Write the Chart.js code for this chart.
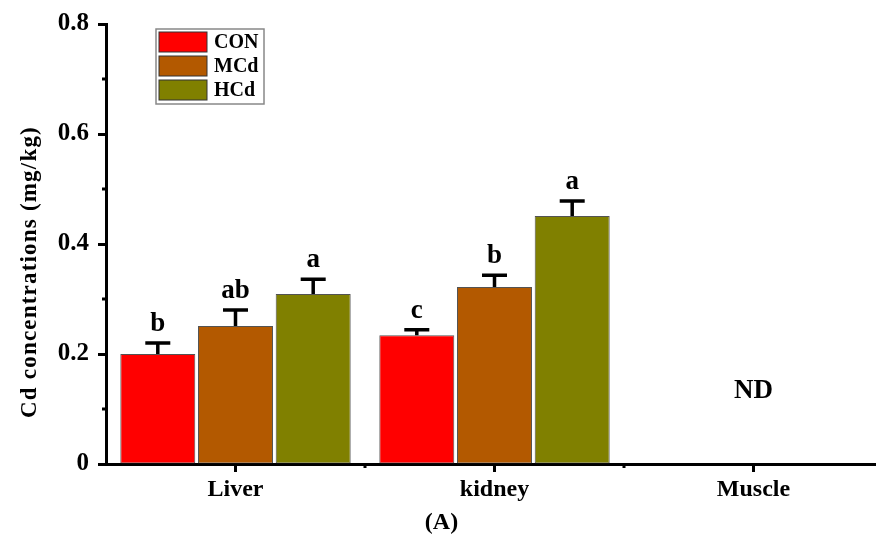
<!DOCTYPE html>
<html>
<head>
<meta charset="utf-8">
<script src="https://cdn.jsdelivr.net/npm/chart.js@4/dist/chart.umd.min.js"></script>
<style>
  html, body { margin: 0; padding: 0; overflow: hidden; background: #fff; }
  canvas { display: block; }
</style>
</head>
<body>
<canvas id="cdChart" width="883" height="538"></canvas>
<script>
// values (mg/kg)
const categories = ['Liver', 'kidney', 'Muscle'];
const conValues = [0.200, 0.234, 0];
const mcdValues = [0.251, 0.322, 0];
const hcdValues = [0.309, 0.451, 0];
const conErrors = [0.020, 0.010, 0];
const mcdErrors = [0.029, 0.021, 0];
const hcdErrors = [0.027, 0.027, 0];
const conLetters = ['b', 'c', ''];
const mcdLetters = ['ab', 'b', ''];
const hcdLetters = ['a', 'a', ''];
const yTickValues = [0, 0.2, 0.4, 0.6, 0.8];
const yMinorValues = [0.1, 0.3, 0.5, 0.7];

const FONT = '"Liberation Serif", "Times New Roman", serif';

function makeDataset(label, values, color, errors, letters) {
    return {
        label: label,
        data: values,
        backgroundColor: color,
        borderColor: 'rgba(40, 40, 40, 0.8)',
        borderWidth: 1,
        borderSkipped: false,
        errors: errors,
        letters: letters
    };
}

// error bars + significance letters
const errorBarPlugin = {
    id: 'errorBars',
    afterDatasetsDraw(chart) {
        const ctx = chart.ctx;
        const y = chart.scales.y;
        ctx.save();
        chart.data.datasets.forEach(function (ds, di) {
            const meta = chart.getDatasetMeta(di);
            meta.data.forEach(function (bar, i) {
                const v = ds.data[i];
                const e = ds.errors[i];
                if (!v) return;
                const yTop = y.getPixelForValue(v + e);
                const yBar = y.getPixelForValue(v);
                ctx.strokeStyle = '#000';
                ctx.lineWidth = 3.5;
                ctx.beginPath();
                ctx.moveTo(bar.x, yBar);
                ctx.lineTo(bar.x, yTop);
                ctx.moveTo(bar.x - 12.5, yTop);
                ctx.lineTo(bar.x + 12.5, yTop);
                ctx.stroke();
                ctx.fillStyle = '#000';
                ctx.font = 'bold 27px ' + FONT;
                ctx.textAlign = 'center';
                ctx.textBaseline = 'alphabetic';
                ctx.fillText(ds.letters[i], bar.x, yTop - 12);
            });
        });
        ctx.restore();
    },
    afterDraw(chart) {
        const ctx = chart.ctx;
        const x = chart.scales.x;
        const y = chart.scales.y;
        const area = chart.chartArea;
        ctx.save();

        // minor ticks
        ctx.strokeStyle = '#000';
        ctx.lineWidth = 3;
        ctx.beginPath();
        yMinorValues.forEach(function (v) {
            const py = y.getPixelForValue(v);
            ctx.moveTo(area.left - 4, py);
            ctx.lineTo(area.left, py);
        });
        for (let i = 1; i < categories.length; i++) {
            const px = (x.getPixelForValue(i - 1) + x.getPixelForValue(i)) / 2;
            ctx.moveTo(px, area.bottom);
            ctx.lineTo(px, area.bottom + 4);
        }
        ctx.stroke();

        // ND for muscle
        ctx.fillStyle = '#000';
        ctx.font = 'bold 27px ' + FONT;
        ctx.textAlign = 'center';
        ctx.textBaseline = 'alphabetic';
        ctx.fillText('ND', x.getPixelForValue(2), y.getPixelForValue(0.12));

        // y axis title
        ctx.save();
        ctx.translate(30, 272);
        ctx.rotate(-Math.PI / 2);
        ctx.font = 'bold 23px ' + FONT;
        ctx.letterSpacing = '1.2px';
        ctx.textBaseline = 'middle';
        ctx.fillText('Cd concentrations (mg/kg)', 0, 0);
        ctx.restore();

        // legend box
        const lx = 156, ly = 29;
        ctx.fillStyle = '#fff';
        ctx.fillRect(lx, ly, 108, 75);
        ctx.strokeStyle = '#888';
        ctx.lineWidth = 1.5;
        ctx.strokeRect(lx, ly, 108, 75);
        chart.data.datasets.forEach(function (ds, di) {
            const sy = ly + 3 + di * 24;
            ctx.fillStyle = ds.backgroundColor;
            ctx.fillRect(lx + 3, sy, 48, 20);
            ctx.strokeStyle = '#333';
            ctx.lineWidth = 1;
            ctx.strokeRect(lx + 3, sy, 48, 20);
            ctx.fillStyle = '#000';
            ctx.font = 'bold 20px ' + FONT;
            ctx.textAlign = 'left';
            ctx.textBaseline = 'middle';
            ctx.fillText(ds.label, lx + 58, sy + 11);
        });
        ctx.restore();
    }
};

const ctx = document.getElementById('cdChart').getContext('2d');
const cdChart = new Chart(ctx, {
    type: 'bar',
    data: {
        labels: categories,
        datasets: [
            makeDataset('CON', conValues, '#ff0000', conErrors, conLetters),
            makeDataset('MCd', mcdValues, '#b35900', mcdErrors, mcdLetters),
            makeDataset('HCd', hcdValues, '#808000', hcdErrors, hcdLetters)
        ]
    },
    plugins: [errorBarPlugin],
    options: {
        responsive: false,
        animation: false,
        devicePixelRatio: 1,
        layout: { padding: { top: 24, left: 0, right: 0, bottom: 0 } },
        datasets: {
            bar: { categoryPercentage: 0.9, barPercentage: 0.965 }
        },
        scales: {
            x: {
                afterFit: function (scale) { scale.height = 40; },
                border: { display: true, color: '#000', width: 3 },
                grid: {
                    offset: false,
                    drawOnChartArea: false,
                    drawTicks: true,
                    tickLength: 8,
                    tickWidth: 3,
                    tickColor: '#000'
                },
                ticks: {
                    color: '#000',
                    padding: 3,
                    font: { family: FONT, size: 24, weight: 'bold' }
                }
            },
            y: {
                min: 0,
                max: 0.8,
                afterFit: function (scale) { scale.width = 106; },
                afterBuildTicks: function (scale) {
                    scale.ticks = yTickValues.map(function (v) { return { value: v }; });
                },
                border: { display: true, color: '#000', width: 3 },
                grid: {
                    drawOnChartArea: false,
                    drawTicks: true,
                    tickLength: 8,
                    tickWidth: 3,
                    tickColor: '#000'
                },
                ticks: {
                    color: '#000',
                    padding: 9,
                    font: { family: FONT, size: 25, weight: 'bold' },
                    callback: function (v) { return v === 0 ? '0' : v.toFixed(1); }
                }
            }
        },
        plugins: {
            legend: { display: false },
            tooltip: { enabled: false },
            title: {
                display: true,
                position: 'bottom',
                text: '(A)',
                color: '#000',
                font: { family: FONT, size: 24, weight: 'bold' },
                padding: { top: 4, bottom: 1.2 }
            }
        }
    }
});
</script>
</body>
</html>
